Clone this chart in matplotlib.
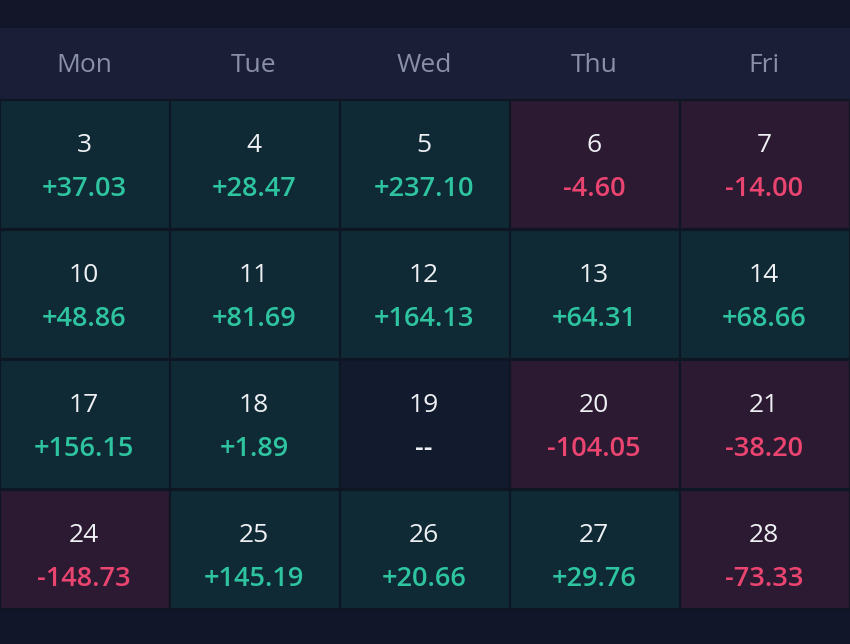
import matplotlib
matplotlib.use("Agg")
import matplotlib.pyplot as plt
from matplotlib.patches import Rectangle

weekdays = ["Mon", "Tue", "Wed", "Thu", "Fri"]
days = [
    [3, 4, 5, 6, 7],
    [10, 11, 12, 13, 14],
    [17, 18, 19, 20, 21],
    [24, 25, 26, 27, 28],
]
pnl = [
    [37.03, 28.47, 237.10, -4.60, -14.00],
    [48.86, 81.69, 164.13, 64.31, 68.66],
    [156.15, 1.89, None, -104.05, -38.20],
    [-148.73, 145.19, 20.66, 29.76, -73.33],
]

BG = "#111729"
TOP = "#121628"
HEADER = "#1a1e36"
GREEN_CELL = "#0f2a35"
RED_CELL = "#2b1a31"
NEUTRAL_CELL = "#121a2d"
GRID = "#0e1523"
GREEN_TXT = "#2ec4a0"
RED_TXT = "#ea4470"
WHITE = "#eef0f4"
HEAD_TXT = "#8a90aa"

FONT = ["Open Sans", "DejaVu Sans"]

fig = plt.figure(figsize=(8.5, 6.44), dpi=100, facecolor=BG)
ax = fig.add_axes([0, 0, 1, 1])
ax.set_xlim(0, 850)
ax.set_ylim(644, 0)
ax.axis("off")
ax.set_facecolor(BG)

col_w = 170
header_top, header_bot = 28, 100
row_tops = [100, 230, 360, 490]
row_h = [129, 129, 129, 119]

ax.add_patch(Rectangle((0, 0), 850, header_top, facecolor=TOP, edgecolor="none"))
ax.add_patch(Rectangle((0, header_top), 850, header_bot - header_top,
                       facecolor=HEADER, edgecolor="none"))
for c, name in enumerate(weekdays):
    ax.text(c * col_w + col_w / 2 - 1, 65, name, ha="center", va="center",
            fontsize=19, color=HEAD_TXT, family=FONT)

for r, row in enumerate(days):
    top = row_tops[r]
    h = row_h[r]
    for c, d in enumerate(row):
        v = pnl[r][c]
        if v is None:
            fc, tc, label = NEUTRAL_CELL, WHITE, "--"
        elif v >= 0:
            fc, tc, label = GREEN_CELL, GREEN_TXT, f"+{v:.2f}"
        else:
            fc, tc, label = RED_CELL, RED_TXT, f"{v:.2f}"
        ax.add_patch(Rectangle((c * col_w, top), col_w, h, facecolor=fc,
                               edgecolor=GRID, linewidth=1.5))
        cx = c * col_w + col_w / 2 - 1
        ax.text(cx, top + 45.5, str(d), ha="center", va="center",
                fontsize=19, color=WHITE, family=FONT)
        ax.text(cx, top + 89, label, ha="center", va="center",
                fontsize=19.5, color=tc, family=FONT, fontweight="semibold")

fig.savefig("out.png", dpi=100, facecolor=BG)
